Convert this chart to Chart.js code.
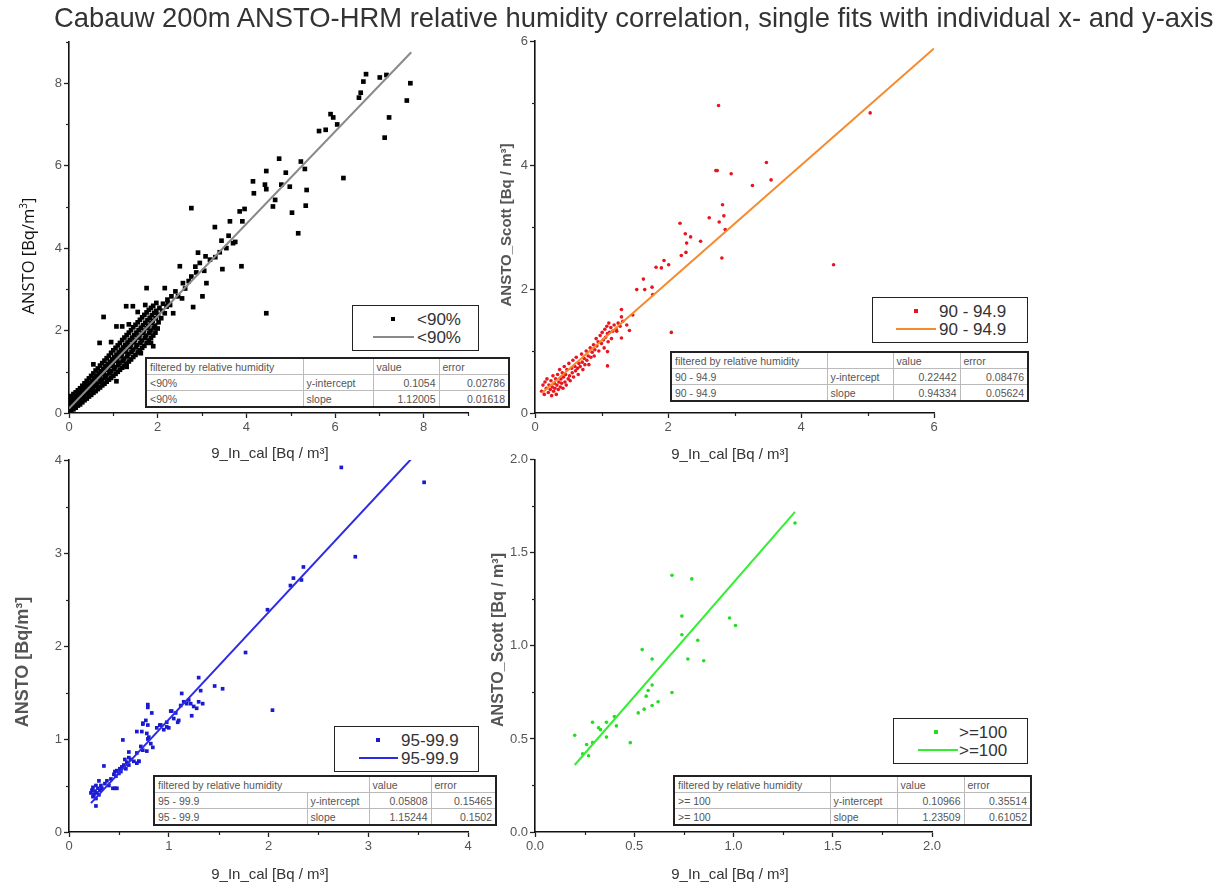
<!DOCTYPE html>
<html>
<head>
<meta charset="utf-8">
<script src="https://cdn.jsdelivr.net/npm/chart.js@4.4.1/dist/chart.umd.min.js"></script>
<style>
  body { margin: 0; background: #fff; font-family: "Liberation Sans", Arial, sans-serif; }
  #page { position: relative; width: 1228px; height: 885px; overflow: hidden; background: #fff; }
  canvas { position: absolute; }
  .lbl { position: absolute; white-space: nowrap; transform: translate(-50%, -50%); color: #333; font-size: 15px; }
  .rot { transform: translate(-50%, -50%) rotate(-90deg); }
  .legend { position: absolute; background: #fff; border: 1.5px solid #222; box-sizing: border-box; }
  .legend .mk { position: absolute; width: 4px; height: 4px; margin: -2px 0 0 -2px; }
  .legend .ln { position: absolute; height: 2px; margin-top: -1px; }
  .legend .tx { position: absolute; font-size: 17px; color: #333; transform: translateY(-50%); white-space: nowrap; line-height: 1; }
  table.fit { position: absolute; border-collapse: collapse; border: 2px solid #222; background: #fff;
              font-size: 10.5px; color: #555; table-layout: fixed; }
  table.fit td { border: 1px solid #bbb; padding: 0 3px; height: 15px; line-height: 14px; white-space: nowrap; overflow: hidden; }
  table.fit td.num { text-align: right; }
</style>
</head>
<body>
<div id="page">
  <canvas id="c1" width="480" height="420" style="left:0;top:30px"></canvas>
  <canvas id="c2" width="470" height="420" style="left:480px;top:30px"></canvas>
  <canvas id="c3" width="480" height="420" style="left:0;top:450px"></canvas>
  <canvas id="c4" width="470" height="420" style="left:480px;top:450px"></canvas>

  <div style="position:absolute;left:54px;top:2px;font-size:27.4px;color:#333;white-space:nowrap">Cabauw 200m ANSTO-HRM relative humidity correlation, single fits with individual x- and y-axis</div>

  <div class="lbl rot" style="left:27px;top:256px;font-family:'Open Sans',sans-serif;font-size:16.5px;color:#111">ANSTO [Bq/m<sup style="font-size:10px">3</sup>]</div>
  <div class="lbl rot" style="left:505px;top:225px;font-size:15px;font-weight:bold;color:#555">ANSTO_Scott [Bq / m³]</div>
  <div class="lbl rot" style="left:22px;top:662px;font-size:18px;font-weight:bold;color:#555">ANSTO [Bq/m³]</div>
  <div class="lbl rot" style="left:498px;top:640px;font-size:16px;font-weight:bold;color:#555">ANSTO_Scott [Bq / m³]</div>

  <div class="lbl" style="left:270px;top:452px">9_In_cal [Bq / m³]</div>
  <div class="lbl" style="left:730px;top:453px">9_In_cal [Bq / m³]</div>
  <div class="lbl" style="left:270px;top:873px">9_In_cal [Bq / m³]</div>
  <div class="lbl" style="left:730px;top:873px">9_In_cal [Bq / m³]</div>
</div>

<script>
// ── data ──────────────────────────────────────────────────────────────
const groupNames   = ['<90%', '90 - 94.9', '95 - 99.9', '>= 100'];
const legendNames  = ['<90%', '90 - 94.9', '95-99.9', '>=100'];
const interceptVal = ['0.1054', '0.22442', '0.05808', '0.10966'];
const interceptErr = ['0.02786', '0.08476', '0.15465', '0.35514'];
const slopeVal     = ['1.12005', '0.94334', '1.15244', '1.23509'];
const slopeErr     = ['0.01618', '0.05624', '0.1502', '0.61052'];

// <90% : dense band near the origin
const rh90Band = [
  [0.01,0.02],[0.02,0.12],[0.01,0.20],[0.03,0.27],[0.02,0.35],
  [0.05,0.07],[0.06,0.16],[0.04,0.24],[0.07,0.31],[0.05,0.41],
  [0.10,0.09],[0.09,0.19],[0.11,0.28],[0.12,0.36],[0.10,0.46],
  [0.15,0.13],[0.16,0.23],[0.14,0.33],[0.17,0.41],[0.15,0.50],
  [0.20,0.18],[0.21,0.29],[0.19,0.37],[0.22,0.46],[0.20,0.55],
  [0.25,0.21],[0.24,0.32],[0.26,0.42],[0.27,0.52],[0.25,0.60],
  [0.30,0.26],[0.31,0.38],[0.29,0.47],[0.32,0.56],[0.30,0.66],
  [0.35,0.31],[0.34,0.42],[0.36,0.52],[0.37,0.62],[0.35,0.72],
  [0.40,0.35],[0.41,0.47],[0.39,0.57],[0.42,0.67],[0.40,0.78],
  [0.45,0.40],[0.44,0.52],[0.46,0.63],[0.47,0.72],[0.45,0.84],
  [0.50,0.44],[0.51,0.56],[0.49,0.68],[0.52,0.78],[0.50,0.90],
  [0.55,0.49],[0.54,0.62],[0.56,0.73],[0.57,0.84],[0.55,0.96],
  [0.60,0.53],[0.61,0.66],[0.59,0.78],[0.62,0.90],[0.60,1.03],
  [0.65,0.58],[0.64,0.71],[0.66,0.84],[0.67,0.96],[0.65,1.08],
  [0.70,0.62],[0.71,0.76],[0.69,0.89],[0.72,1.01],[0.70,1.15],
  [0.75,0.67],[0.74,0.81],[0.76,0.94],[0.77,1.07],[0.75,1.21],
  [0.80,0.71],[0.81,0.86],[0.79,0.99],[0.82,1.13],[0.80,1.27],
  [0.85,0.76],[0.84,0.91],[0.86,1.05],[0.87,1.18],[0.85,1.33],
  [0.90,0.81],[0.91,0.96],[0.89,1.10],[0.92,1.24],[0.90,1.39],
  [0.95,0.85],[0.94,1.01],[0.96,1.15],[0.97,1.30],[0.95,1.46],
  [1.00,0.90],[1.01,1.06],[0.99,1.21],[1.02,1.35],[1.00,1.52],
  [1.05,0.95],[1.04,1.11],[1.06,1.27],[1.07,1.41],[1.05,1.58],
  [1.10,1.00],[1.11,1.16],[1.09,1.32],[1.12,1.47],[1.10,1.64],
  [1.15,1.05],[1.14,1.22],[1.16,1.38],[1.17,1.53],[1.15,1.70],
  [1.20,1.10],[1.21,1.27],[1.19,1.43],[1.22,1.59],[1.20,1.77],
  [1.25,1.15],[1.24,1.32],[1.26,1.49],[1.27,1.65],[1.25,1.83],
  [1.30,1.20],[1.31,1.37],[1.29,1.54],[1.32,1.71],[1.30,1.89],
  [1.35,1.25],[1.34,1.43],[1.36,1.60],[1.37,1.77],[1.35,1.95],
  [1.40,1.30],[1.41,1.48],[1.39,1.65],[1.42,1.83],[1.40,2.01],
  [1.45,1.36],[1.44,1.54],[1.46,1.71],[1.47,1.89],[1.45,2.08],
  [1.50,1.41],[1.51,1.59],[1.49,1.77],[1.52,1.95],[1.50,2.14],
  [1.55,1.47],[1.54,1.65],[1.56,1.83],[1.57,2.01],[1.55,2.20],
  [1.60,1.52],[1.61,1.70],[1.59,1.88],[1.62,2.07],[1.60,2.26],
  [1.65,1.58],[1.64,1.76],[1.66,1.94],[1.67,2.13],[1.65,2.32],
  [1.70,1.63],[1.71,1.82],[1.69,2.00],[1.72,2.19],[1.70,2.38],
  [1.75,1.70],[1.74,1.88],[1.76,2.06],[1.77,2.25],[1.75,2.44],
  [1.80,1.76],[1.81,1.94],[1.79,2.12],[1.82,2.31],[1.80,2.50],
  [1.85,1.82],[1.84,2.00],[1.86,2.18],[1.87,2.37],[1.85,2.55],
  [1.90,1.88],[1.91,2.06],[1.89,2.24],[1.92,2.43],[1.90,2.60],
  [1.95,1.95],[1.94,2.12],[1.96,2.30],[1.97,2.48],[2.00,2.05],
  [2.02,2.20],[2.01,2.38],[2.04,2.55],[2.08,2.30],[2.10,2.48],
  [2.12,2.65],[2.16,2.42],[2.20,2.58],[2.22,2.75],[2.28,2.62]
];
// <90% : scattered points
const rh90Pts = [
  [7.70,8.00],[7.62,7.58],[7.16,8.20],[7.01,8.14],[7.22,7.17],[7.12,6.68],[6.70,8.22],[6.64,8.04],[6.58,7.77],
  [6.54,7.65],[6.05,7.00],[5.96,7.17],[5.90,7.25],[5.79,6.87],[5.64,6.84],[6.19,5.70],[5.23,6.10],[5.32,5.92],
  [5.36,5.41],[5.34,5.03],[5.17,4.36],[5.03,4.86],[4.98,5.49],[4.89,5.83],[4.74,6.17],[4.45,5.87],[4.15,5.62],
  [4.17,5.33],[4.42,5.54],[4.45,5.43],[4.60,5.01],[4.65,5.17],[4.79,5.54],[2.76,4.97],[3.85,4.89],[3.91,4.65],
  [3.96,4.95],[3.63,4.65],[3.29,4.51],[3.44,4.18],[3.70,4.12],[3.55,4.00],[3.46,3.49],[3.89,3.56],[4.45,2.42],
  [3.08,3.80],[2.95,3.64],[2.87,3.41],[3.10,3.15],[3.01,2.83],[2.76,3.31],[2.57,3.15],[2.50,3.56],[2.91,3.89],
  [3.18,3.72],[2.46,2.83],[2.31,2.83],[2.16,3.03],[1.75,3.03],[2.80,2.57],[2.23,2.67],[2.35,2.42],[1.97,2.67],
  [1.44,2.59],[1.29,2.59],[0.78,2.33],[1.07,2.10],[0.69,1.70],[1.07,0.77],[1.90,1.62],[3.60,4.30],[3.75,4.15],
  [2.40,2.95],[2.55,2.78],[2.62,3.02],[2.70,3.20],[2.85,3.55],[3.05,3.45],[3.30,3.78],[3.40,3.90],[1.20,2.10],
  [1.55,2.45],[1.62,1.45],[1.85,1.70],[1.30,1.12],[0.55,1.18],[0.95,1.72],[1.35,2.15],[1.72,2.62]
];
const rh90FitX = [0, 7.72];
const rh90FitY = [0.11, 8.75];

// 90 - 94.9
const rh95Pts = [
  [0.10,0.35],[0.12,0.45],[0.14,0.30],[0.15,0.50],[0.17,0.40],[0.18,0.55],[0.20,0.33],[0.21,0.45],[0.23,0.38],
  [0.24,0.52],[0.25,0.28],[0.26,0.42],[0.27,0.60],[0.28,0.35],[0.29,0.48],[0.30,0.40],[0.31,0.55],[0.32,0.30],
  [0.33,0.45],[0.34,0.62],[0.35,0.38],[0.36,0.50],[0.37,0.70],[0.38,0.42],[0.39,0.55],[0.40,0.48],[0.41,0.65],
  [0.42,0.40],[0.43,0.58],[0.44,0.75],[0.45,0.50],[0.46,0.62],[0.47,0.45],[0.48,0.70],[0.50,0.55],[0.51,0.80],
  [0.52,0.60],[0.53,0.52],[0.55,0.72],[0.56,0.65],[0.57,0.85],[0.58,0.58],[0.60,0.75],[0.61,0.68],[0.62,0.90],
  [0.64,0.72],[0.65,0.62],[0.66,0.80],[0.68,0.75],[0.70,0.95],[0.71,0.82],[0.72,0.70],[0.74,0.88],[0.75,0.78],
  [0.77,1.00],[0.78,0.85],[0.80,0.92],[0.81,0.78],[0.83,1.05],[0.84,0.90],[0.86,0.98],[0.88,1.10],[0.89,0.92],
  [0.90,1.02],[0.92,1.20],[0.93,1.08],[0.95,1.15],[0.96,1.00],[0.98,1.25],[1.00,1.12],[1.01,1.30],[1.03,1.18],
  [1.04,1.05],[1.05,1.35],[1.06,1.22],[1.08,1.40],[1.09,1.28],[1.10,1.15],[1.11,1.45],[1.12,1.30],[1.14,1.38],
  [1.15,1.20],[1.17,1.32],[1.19,1.42],[1.22,1.35],[1.25,1.45],[1.28,1.40],[1.30,1.55],[1.32,1.48],[1.38,1.42],
  [1.09,0.99],[1.09,0.76],[1.30,1.21],[1.23,1.32],
  [2.76,4.96],[5.04,4.84],[3.48,4.04],[3.55,3.76],[2.72,3.91],[2.74,3.91],[2.95,3.86],[3.27,3.67],[2.82,3.36],
  [2.62,3.15],[2.84,3.18],[2.77,3.08],[2.86,2.96],[2.18,3.06],[2.26,2.89],[2.34,2.84],[2.28,2.74],[2.20,2.54],
  [2.27,2.59],[2.49,2.77],[2.81,2.50],[4.49,2.39],[1.94,2.46],[2.01,2.39],[1.82,2.35],[1.90,2.34],[1.63,2.16],
  [1.53,1.99],[1.65,1.99],[1.76,2.03],[1.77,1.91],[2.05,1.30],[1.30,1.67],[1.47,1.58],[1.42,1.33]
];
const rh95FitX = [0.10, 6.00];
const rh95FitY = [0.32, 5.88];

// 95 - 99.9
const rh99Pts = [
  [0.22,0.42],[0.23,0.45],[0.24,0.38],[0.24,0.48],[0.25,0.40],[0.26,0.44],[0.27,0.36],[0.27,0.50],[0.28,0.42],
  [0.29,0.47],[0.30,0.40],[0.30,0.55],[0.31,0.45],[0.32,0.50],[0.33,0.47],[0.35,0.71],[0.36,0.52],[0.38,0.55],
  [0.40,0.50],[0.42,0.57],[0.44,0.47],[0.45,0.62],[0.46,0.65],[0.47,0.60],[0.48,0.47],[0.48,0.66],[0.50,0.63],
  [0.51,0.68],[0.52,0.65],[0.53,0.70],[0.54,0.99],[0.55,0.72],[0.56,0.78],[0.57,0.68],[0.58,0.75],[0.60,0.80],
  [0.60,0.72],[0.62,0.78],[0.65,0.76],[0.68,0.85],[0.70,0.76],[0.72,0.92],[0.73,1.08],[0.74,0.88],[0.77,1.20],
  [0.80,1.02],[0.82,0.95],[0.88,1.12],[0.92,1.15],[0.95,1.10],[0.98,1.18],[1.00,1.12],[1.02,1.30],[1.05,1.22],
  [1.07,1.28],[1.10,1.20],[1.12,1.36],[1.15,1.40],[1.18,1.38],[1.20,1.42],[1.22,1.38],[1.25,1.35],[1.28,1.33],
  [1.30,1.40],[0.27,0.28],[0.79,1.37],[0.83,1.28],[0.74,1.17],[0.79,1.15],[0.60,0.86],[0.70,0.76],[0.91,1.15],
  [2.73,3.92],[3.56,3.76],[2.87,2.96],[2.35,2.85],[2.25,2.73],[2.33,2.71],[2.22,2.65],[1.99,2.39],[1.77,1.93],
  [2.04,1.31],[1.30,1.66],[1.46,1.57],[1.54,1.54],[1.32,1.52],[1.34,1.38],[1.13,1.49],[1.23,1.25],[0.79,1.34],
  [1.09,1.18],[1.03,1.30],[0.98,1.13],[0.74,1.16],[0.68,1.08],[0.78,1.06],[0.79,1.00],[0.84,0.91],[0.78,0.87],
  [0.68,0.74],[0.46,0.47]
];
const rh99FitX = [0.22, 3.43];
const rh99FitY = [0.31, 4.01];

// >= 100
const rh100Pts = [
  [1.31,1.66],[0.69,1.38],[0.79,1.36],[0.74,1.16],[0.98,1.15],[1.01,1.11],[0.74,1.06],[0.82,1.03],[0.54,0.98],
  [0.59,0.93],[0.77,0.93],[0.85,0.92],[0.59,0.79],[0.57,0.76],[0.56,0.73],[0.69,0.75],[0.62,0.70],[0.59,0.68],
  [0.55,0.66],[0.52,0.64],[0.29,0.59],[0.36,0.59],[0.32,0.56],[0.33,0.55],[0.40,0.62],[0.41,0.57],[0.20,0.52],
  [0.36,0.51],[0.48,0.48],[0.26,0.47],[0.29,0.48],[0.24,0.42],[0.27,0.41]
];
const rh100FitX = [0.20, 1.31];
const rh100FitY = [0.36, 1.72];

// ── helpers ───────────────────────────────────────────────────────────
const TICK_FONT = { family: "'Liberation Sans', Arial, sans-serif", size: 13 };

function isMajor(v, labelStep) {
  const k = v / labelStep;
  return Math.abs(k - Math.round(k)) < 1e-6;
}

function axis(min, max, step, labelStep, dec, size, isY) {
  return {
    type: 'linear',
    min, max,
    labelStep,
    afterFit(s) { if (isY) s.width = size; else s.height = size; },
    ticks: {
      stepSize: step,
      autoSkip: false,
      maxRotation: 0,
      color: '#555',
      font: TICK_FONT,
      padding: 2,
      callback(v) {
        if (!isMajor(v, labelStep)) return '';
        return dec ? v.toFixed(dec) : String(Math.round(v));
      }
    },
    grid: {
      drawOnChartArea: false,
      drawTicks: true,
      tickLength: 5,
      tickColor: c => (c.tick && isMajor(c.tick.value, labelStep)) ? '#222' : 'rgba(0,0,0,0)',
      tickWidth: 1.3
    },
    border: { display: true, color: '#111', width: 1.6 }
  };
}

// short minor ticks (Origin style)
const minorTicks = {
  id: 'minorTicks',
  afterDraw(chart) {
    const ctx = chart.ctx;
    ctx.save();
    ctx.strokeStyle = '#222';
    ctx.lineWidth = 1.2;
    ['x', 'y'].forEach(k => {
      const s = chart.scales[k];
      const ls = s.options.labelStep;
      s.ticks.forEach(t => {
        if (isMajor(t.value, ls)) return;
        const p = Math.round(s.getPixelForValue(t.value)) + 0.5;
        ctx.beginPath();
        if (k === 'x') { ctx.moveTo(p, s.top); ctx.lineTo(p, s.top + 3); }
        else { ctx.moveTo(s.right, p); ctx.lineTo(s.right - 3, p); }
        ctx.stroke();
      });
    });
    ctx.restore();
  }
};

function panel(id, pts, ptColor, ptStyle, ptRadius, fitX, fitY, fitColor, xAx, yAx, pad) {
  const ctx = document.getElementById(id).getContext('2d');
  new Chart(ctx, {
    type: 'scatter',
    data: {
      datasets: [
        {
          label: 'fit',
          data: fitX.map((x, i) => ({ x, y: fitY[i] })),
          showLine: true,
          borderColor: fitColor,
          borderWidth: 2,
          pointRadius: 0,
          order: 0
        },
        {
          label: 'points',
          data: pts.map(p => ({ x: p[0], y: p[1] })),
          pointStyle: ptStyle,
          pointRadius: ptRadius,
          backgroundColor: ptColor,
          borderWidth: 0,
          order: 1
        }
      ]
    },
    options: {
      responsive: false,
      animation: false,
      devicePixelRatio: 1,
      layout: { padding: pad },
      plugins: { legend: { display: false }, tooltip: { enabled: false } },
      scales: { x: xAx, y: yAx }
    },
    plugins: [minorTicks]
  });
}

panel('c1', rh90Band.concat(rh90Pts), '#000', 'rect', 3.3, rh90FitX, rh90FitY, '#8a8a8a',
  axis(0, 9, 1, 2, 0, 30, false), axis(0, 9, 1, 2, 0, 69, true),
  { left: 0, top: 12, right: 12, bottom: 7 });
panel('c2', rh95Pts, '#e8141e', 'circle', 1.8, rh95FitX, rh95FitY, '#f5892c',
  axis(0, 6, 1, 2, 0, 30, false), axis(0, 6, 1, 2, 0, 55, true),
  { left: 0, top: 11, right: 16, bottom: 7 });
panel('c3', rh99Pts, '#1a1ad0', 'rect', 2.6, rh99FitX, rh99FitY, '#2b2be6',
  axis(0, 4, 0.5, 1, 0, 30, false), axis(0, 4, 0.5, 1, 0, 69, true),
  { left: 0, top: 10, right: 12, bottom: 8 });
panel('c4', rh100Pts, '#22dd22', 'circle', 1.8, rh100FitX, rh100FitY, '#33ee33',
  axis(0, 2, 0.25, 0.5, 1, 30, false), axis(0, 2, 0.25, 0.5, 1, 55, true),
  { left: 0, top: 9, right: 18, bottom: 8 });

// ── legends and fit tables (HTML overlays) ────────────────────────────
const page = document.getElementById('page');
const legendBoxes = [
  { l: 352, t: 305, w: 127, mk: 40, l0: 20, l1: 61, tx: 64, pc: '#000', lc: '#8a8a8a' },
  { l: 872, t: 297, w: 156, mk: 43, l0: 23, l1: 63, tx: 66, pc: '#e8141e', lc: '#f5892c' },
  { l: 334, t: 726, w: 145, mk: 43, l0: 24, l1: 63, tx: 66, pc: '#1a1ad0', lc: '#2b2be6' },
  { l: 893, t: 718, w: 135, mk: 42, l0: 24, l1: 64, tx: 65, pc: '#22dd22', lc: '#33ee33' }
];
legendBoxes.forEach((b, i) => {
  const d = document.createElement('div');
  d.className = 'legend';
  d.style.cssText = `left:${b.l}px;top:${b.t}px;width:${b.w}px;height:46px`;
  d.innerHTML =
    `<div class="mk" style="left:${b.mk}px;top:13px;background:${b.pc}"></div>` +
    `<div class="tx" style="left:${b.tx}px;top:13px"></div>` +
    `<div class="ln" style="left:${b.l0}px;width:${b.l1 - b.l0}px;top:31px;background:${b.lc}"></div>` +
    `<div class="tx" style="left:${b.tx}px;top:31px"></div>`;
  d.querySelectorAll('.tx').forEach(t => { t.textContent = legendNames[i]; });
  page.appendChild(d);
});

const tables = [
  { l: 145, t: 357, cols: [157, 70, 66, 70], merge: false },
  { l: 670, t: 351, cols: [156, 66, 67, 68], merge: false },
  { l: 153, t: 775, cols: [153, 62, 62, 65], merge: true },
  { l: 673, t: 775, cols: [156, 67, 67, 67], merge: false }
];
function td(text, cls) {
  const c = document.createElement('td');
  if (cls) c.className = cls;
  c.textContent = text;
  return c;
}
tables.forEach((tb, i) => {
  const t = document.createElement('table');
  t.className = 'fit';
  t.style.left = tb.l + 'px';
  t.style.top = tb.t + 'px';
  t.style.width = tb.cols.reduce((a, b) => a + b, 0) + 'px';
  const cg = document.createElement('colgroup');
  tb.cols.forEach(w => { const c = document.createElement('col'); c.style.width = w + 'px'; cg.appendChild(c); });
  t.appendChild(cg);
  const head = document.createElement('tr');
  const h0 = td('filtered by relative humidity');
  if (tb.merge) { h0.colSpan = 2; head.appendChild(h0); }
  else { head.appendChild(h0); head.appendChild(td('')); }
  head.appendChild(td('value'));
  head.appendChild(td('error'));
  t.appendChild(head);
  const r1 = document.createElement('tr');
  [td(groupNames[i]), td('y-intercept'), td(interceptVal[i], 'num'), td(interceptErr[i], 'num')].forEach(c => r1.appendChild(c));
  t.appendChild(r1);
  const r2 = document.createElement('tr');
  [td(groupNames[i]), td('slope'), td(slopeVal[i], 'num'), td(slopeErr[i], 'num')].forEach(c => r2.appendChild(c));
  t.appendChild(r2);
  page.appendChild(t);
});
</script>
</body>
</html>
